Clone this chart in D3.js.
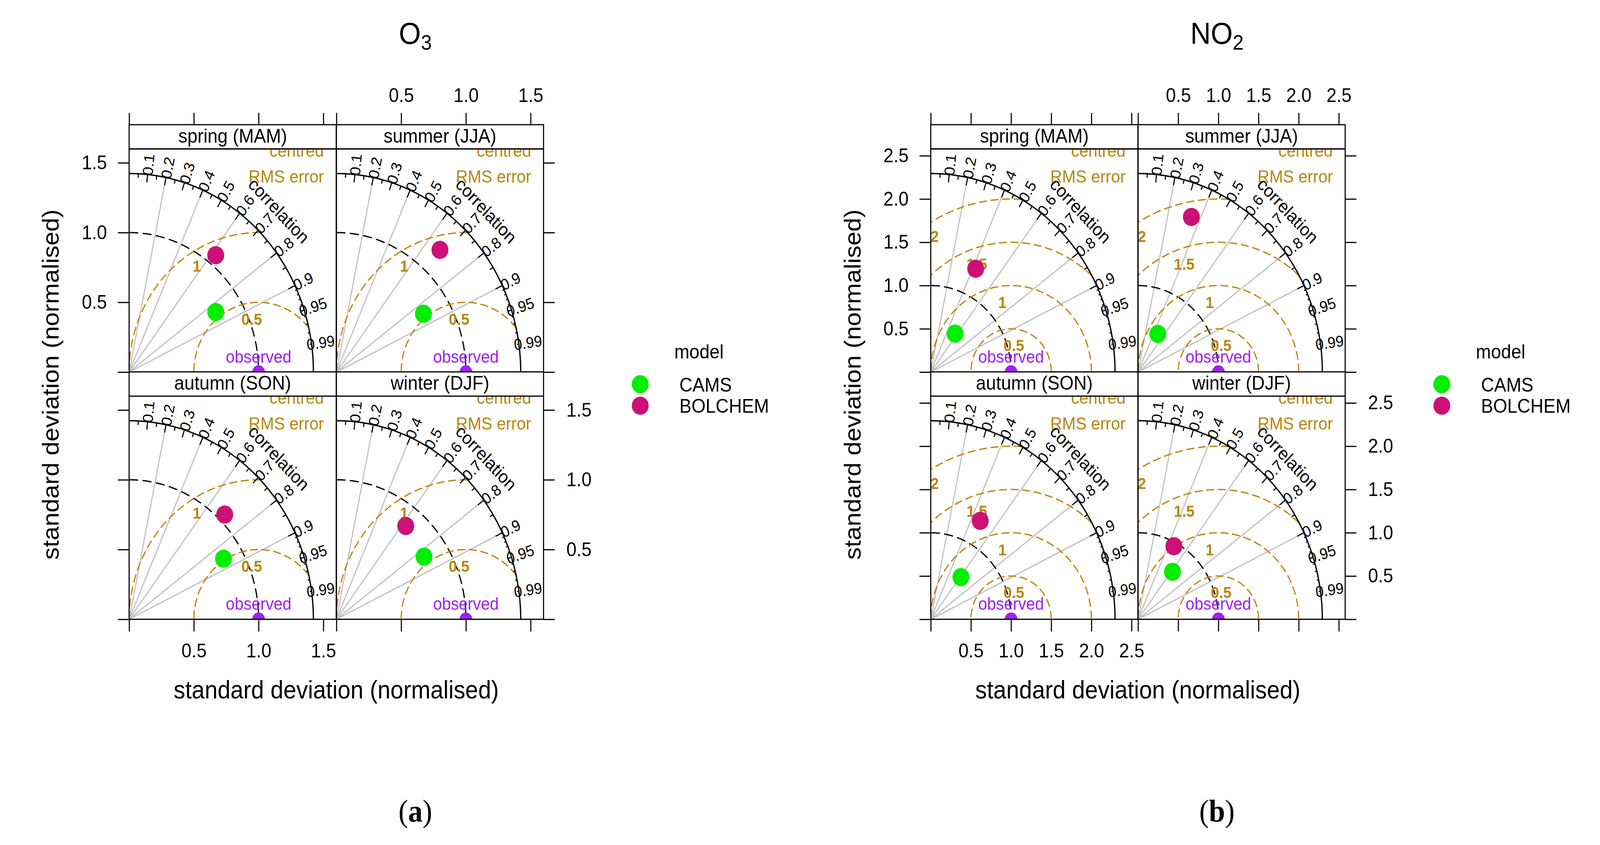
<!DOCTYPE html>
<html><head><meta charset="utf-8">
<script src="https://cdn.jsdelivr.net/npm/d3@7"></script>
<style>html,body{margin:0;padding:0;background:#fff;overflow:hidden;width:100%;height:100%;} svg{display:block;}</style>
</head><body>
<script>
// ---------- data ----------
const seasons = ["spring (MAM)", "summer (JJA)", "autumn (SON)", "winter (DJF)"];
const models = ["CAMS", "BOLCHEM"];
const modelColors = ["#00EE00", "#CD1076"];

// normalised standard deviation and correlation per season (order as seasons)
const o3CamsSd = [0.796, 0.791, 0.848, 0.812];
const o3CamsR = [0.841, 0.849, 0.859, 0.833];
const o3BolchemSd = [1.072, 1.186, 1.053, 0.857];
const o3BolchemR = [0.624, 0.674, 0.701, 0.625];

const no2CamsSd = [0.538, 0.505, 0.615, 0.696];
const no2CamsR = [0.564, 0.487, 0.610, 0.615];
const no2BolchemSd = [1.319, 1.912, 1.294, 0.955];
const no2BolchemR = [0.424, 0.347, 0.476, 0.467];

const observedSd = 1;
const corrTicks = [0.1, 0.2, 0.3, 0.4, 0.5, 0.6, 0.7, 0.8, 0.9, 0.95, 0.99];
const corrMedTicks = [0.05, 0.15, 0.25, 0.35, 0.45, 0.55, 0.65, 0.75, 0.85, 0.95];
const corrSmallTicks = [0.91, 0.92, 0.93, 0.94, 0.96, 0.97, 0.98, 0.99];
const corrGrid = [0.2, 0.4, 0.6, 0.8, 0.9];

const o3RmsLevels = [0.5, 1];
const no2RmsLevels = [0.5, 1, 1.5, 2];

const o3AxisTicks = [0, 0.5, 1, 1.5];
const o3AxisLabels = ["", "0.5", "1.0", "1.5"];
const no2AxisTicks = [0, 0.5, 1, 1.5, 2, 2.5];
const no2AxisLabels = ["", "0.5", "1.0", "1.5", "2.0", "2.5"];

// ---------- layout ----------
const W = 4411, H = 2162;
const P = 571;           // panel size
const stripH = 62;
const colLeft = [356, 927.5];
const rowTop = [381, 1013.5];
const GOLD = "#B8860B", PURPLE = "#A020F0", GREY = "#BEBEBE";
const FONT = "'Liberation Sans', Arial, Helvetica, sans-serif";

const svg = d3.select("body").append("svg")
  .attr("viewBox", `0 0 ${W} ${H}`)
  .attr("preserveAspectRatio", "none")
  .style("width", "100vw").style("height", "100vh")
  .style("font-family", FONT);
svg.append("rect").attr("width", W).attr("height", H).attr("fill", "#fff");
const defs = svg.append("defs");
let clipCount = 0;

function drawChart(cfg) {
  const off = cfg.offset;
  const g = svg.append("g");
  const maxsd = 1.2 * d3.max(cfg.camsSd.concat(cfg.bolSd));
  const dom = 1.124 * maxsd;

  // title
  const t = g.append("text").attr("x", 1145 + off).attr("y", 112)
    .attr("text-anchor", "middle").attr("font-size", 78).attr("fill", "#000");
  t.append("tspan").text(cfg.titleMain);
  t.append("tspan").attr("font-size", 54).attr("dy", 15).text(cfg.titleSub);

  for (let i = 0; i < 4; i++) {
    const col = i % 2, row = Math.floor(i / 2);
    const px = colLeft[col] + off, py = rowTop[row];
    const x = d3.scaleLinear().domain([0, dom]).range([px, px + P]);
    const y = d3.scaleLinear().domain([0, dom]).range([py + P, py]);
    const polar = (r, a) => [x(r * Math.cos(a)), y(r * Math.sin(a))];
    const line = d3.line().x(d => x(d[0])).y(d => y(d[1]));

    // strip
    g.append("rect").attr("x", px).attr("y", py - stripH).attr("width", P).attr("height", stripH)
      .attr("fill", "#fff").attr("stroke", "#000").attr("stroke-width", 3);
    g.append("text").attr("x", px + P / 2).attr("y", py - stripH + 46)
      .attr("text-anchor", "middle").attr("font-size", 50).text(seasons[i]);

    const id = "clip" + (clipCount++);
    defs.append("clipPath").attr("id", id).append("rect")
      .attr("x", px).attr("y", py).attr("width", P).attr("height", P);
    const pg = g.append("g").attr("clip-path", `url(#${id})`);

    // grey correlation lines
    corrGrid.forEach(c => {
      const a = Math.acos(c);
      const e = polar(maxsd, a);
      pg.append("line").attr("x1", x(0)).attr("y1", y(0)).attr("x2", e[0]).attr("y2", e[1])
        .attr("stroke", GREY).attr("stroke-width", 3);
    });

    // observed sd arc (black dashed)
    const sdPts = d3.range(0, 201).map(k => {
      const a = Math.PI / 2 - k / 200 * Math.PI / 2;
      return [observedSd * Math.cos(a), observedSd * Math.sin(a)];
    });
    pg.append("path").attr("d", line(sdPts)).attr("fill", "none")
      .attr("stroke", "#000").attr("stroke-width", 3.3).attr("stroke-dasharray", "25,12");

    // centred RMS arcs
    cfg.rms.forEach((gm) => {
      let a0 = 0;
      const cosStart = (maxsd * maxsd - 1 - gm * gm) / (2 * gm);
      if (cosStart < 1) a0 = Math.acos(Math.max(-1, cosStart));
      const a1 = Math.acos(Math.max(-1, -observedSd / gm));
      const pts = d3.range(0, 301).map(k => {
        const a = a0 + (a1 - a0) * k / 300;
        return [observedSd + gm * Math.cos(a), gm * Math.sin(a)];
      });
      pg.append("path").attr("d", line(pts)).attr("fill", "none")
        .attr("stroke", GOLD).attr("stroke-width", 3.3).attr("stroke-dasharray", "22,10");
    });

    // outer arc
    const outPts = d3.range(0, 301).map(k => {
      const a = k / 300 * Math.PI / 2;
      return [maxsd * Math.cos(a), maxsd * Math.sin(a)];
    });
    pg.append("path").attr("d", line(outPts)).attr("fill", "none")
      .attr("stroke", "#000").attr("stroke-width", 3.5);

    // correlation ticks
    const tick = (vals, frac) => vals.forEach(c => {
      const a = Math.acos(c);
      const p1 = polar(maxsd, a), p2 = polar(maxsd * (1 - frac), a);
      pg.append("line").attr("x1", p1[0]).attr("y1", p1[1]).attr("x2", p2[0]).attr("y2", p2[1])
        .attr("stroke", "#000").attr("stroke-width", 3);
    });
    tick(corrTicks.slice(0, 9), 0.04);
    tick(corrMedTicks, 0.02);
    tick(corrSmallTicks, 0.01);

    // correlation labels
    corrTicks.forEach(c => {
      const a = Math.acos(c);
      const p = polar(maxsd * 1.05, a);
      pg.append("text").attr("transform", `translate(${p[0]},${p[1]}) rotate(${-a * 180 / Math.PI})`)
        .attr("text-anchor", "middle").attr("dy", "0.35em").attr("font-size", 40).text(String(c));
    });
    const pc = polar(maxsd * 1.15, Math.PI / 4);
    pg.append("text").attr("transform", `translate(${pc[0]},${pc[1]}) rotate(45)`)
      .attr("text-anchor", "middle").attr("dy", "0.35em").attr("font-size", 46).text("correlation");

    // centred RMS error label
    pg.append("text").attr("x", px + P - 34).attr("y", py + 20).attr("text-anchor", "end")
      .attr("font-size", 45).attr("fill", GOLD).text("centred");
    pg.append("text").attr("x", px + P - 34).attr("y", py + 86).attr("text-anchor", "end")
      .attr("font-size", 45).attr("fill", GOLD).text("RMS error");

    // RMS labels
    cfg.rms.forEach((gm, gi) => {
      const a = cfg.rmsLabelAngles[gi] * Math.PI / 180;
      const lx = x(observedSd + gm * Math.cos(a)), ly = y(gm * Math.sin(a)) + 42;
      pg.append("text").attr("x", lx).attr("y", ly).attr("dy", "0.35em")
        .attr("text-anchor", "middle").attr("font-size", 41).attr("font-weight", "bold")
        .attr("fill", GOLD).text(String(gm));
    });

    // observed
    pg.append("text").attr("x", x(observedSd)).attr("y", y(0) - 24).attr("text-anchor", "middle")
      .attr("font-size", 44).attr("fill", PURPLE).text("observed");
    pg.append("circle").attr("cx", x(observedSd)).attr("cy", y(0)).attr("r", 17.5).attr("fill", PURPLE);

    // model points
    const sds = [cfg.camsSd[i], cfg.bolSd[i]], rs = [cfg.camsR[i], cfg.bolR[i]];
    models.forEach((m, mi) => {
      const p = polar(sds[mi], Math.acos(rs[mi]));
      pg.append("circle").attr("cx", p[0]).attr("cy", p[1]).attr("r", 23.3).attr("fill", modelColors[mi]);
    });

    // panel border
    g.append("rect").attr("x", px).attr("y", py).attr("width", P).attr("height", P)
      .attr("fill", "none").attr("stroke", "#000").attr("stroke-width", 3);

    // axes
    const fmt = d3.scaleOrdinal().domain(cfg.ticks).range(cfg.labels);
    const noFmt = () => "";
    const styleAxis = sel => {
      sel.select(".domain").remove();
      sel.selectAll("line").attr("stroke", "#000").attr("stroke-width", 3);
      sel.selectAll("text").attr("font-size", 50).attr("font-family", FONT).attr("fill", "#000");
      sel.attr("font-size", 50).attr("font-family", FONT);
    };
    if (row === 0) {
      g.append("g").attr("transform", `translate(0,${py - stripH})`)
        .call(d3.axisTop(x).tickValues(cfg.ticks).tickSize(30).tickPadding(28)
          .tickFormat(col === 1 ? fmt : noFmt)).call(styleAxis);
    } else {
      g.append("g").attr("transform", `translate(0,${py + P})`)
        .call(d3.axisBottom(x).tickValues(cfg.ticks).tickSize(31).tickPadding(31)
          .tickFormat(col === 0 ? fmt : noFmt)).call(styleAxis);
    }
    if (col === 0) {
      g.append("g").attr("transform", `translate(${px},0)`)
        .call(d3.axisLeft(y).tickValues(cfg.ticks).tickSize(31).tickPadding(30)
          .tickFormat(row === 0 ? fmt : noFmt)).call(styleAxis);
    } else {
      g.append("g").attr("transform", `translate(${px + P},0)`)
        .call(d3.axisRight(y).tickValues(cfg.ticks).tickSize(31).tickPadding(32)
          .tickFormat(row === 1 ? fmt : noFmt)).call(styleAxis);
    }
  }

  // axis titles
  g.append("text").attr("x", 927 + off).attr("y", 1787).attr("text-anchor", "middle")
    .attr("font-size", 64).text("standard deviation (normalised)");
  g.append("text").attr("transform", `translate(${162 + off},984) rotate(-90)`)
    .attr("text-anchor", "middle").attr("font-size", 64).text("standard deviation (normalised)");

  // legend
  g.append("text").attr("x", 1927 + off).attr("y", 917).attr("text-anchor", "middle")
    .attr("font-size", 50).text("model");
  models.forEach((m, mi) => {
    g.append("circle").attr("cx", 1765 + off).attr("cy", 983 + mi * 55).attr("r", 23.3)
      .attr("fill", modelColors[mi]);
    g.append("text").attr("x", 1873 + off).attr("y", 1002 + mi * 54).attr("font-size", 50).text(m);
  });

  // caption
  const cap = g.append("text").attr("x", 1145 + off).attr("y", 2102).attr("text-anchor", "middle")
    .attr("font-family", "'Liberation Serif', 'Times New Roman', serif").attr("font-size", 80);
  cap.append("tspan").text("(");
  cap.append("tspan").attr("font-weight", "bold").text(cfg.caption);
  cap.append("tspan").text(")");
}

drawChart({
  offset: 0, titleMain: "O", titleSub: "3", caption: "a",
  camsSd: o3CamsSd, camsR: o3CamsR, bolSd: o3BolchemSd, bolR: o3BolchemR,
  rms: o3RmsLevels, rmsLabelAngles: [96.1, 118.5],
  ticks: o3AxisTicks, labels: o3AxisLabels
});
drawChart({
  offset: 2210, titleMain: "NO", titleSub: "2", caption: "b",
  camsSd: no2CamsSd, camsR: no2CamsR, bolSd: no2BolchemSd, bolR: no2BolchemR,
  rms: no2RmsLevels, rmsLabelAngles: [86, 96.2, 106.5, 118.4],
  ticks: no2AxisTicks, labels: no2AxisLabels
});
</script>
</body></html>
